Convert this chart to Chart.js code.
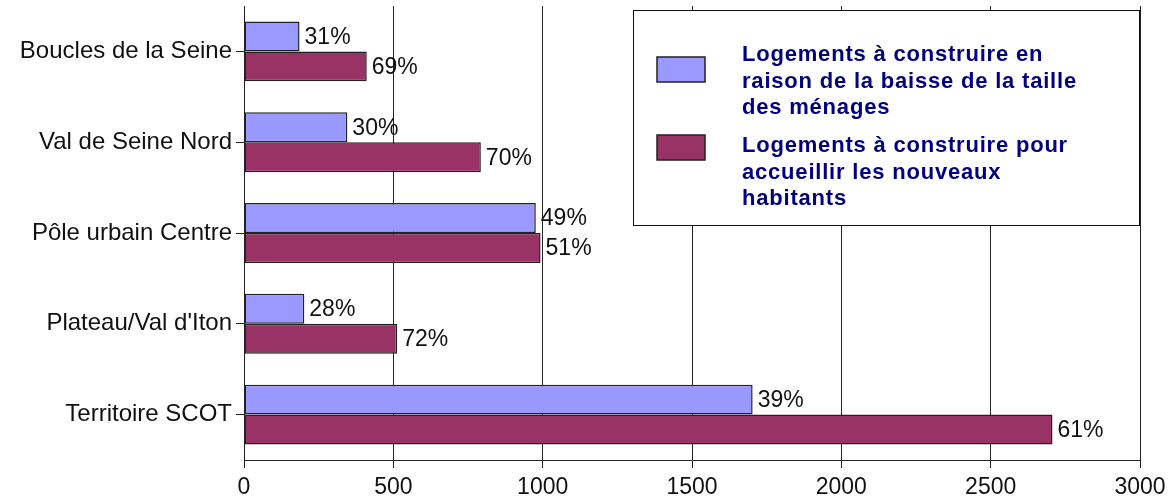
<!DOCTYPE html>
<html>
<head>
<meta charset="utf-8">
<script src="https://cdn.jsdelivr.net/npm/chart.js@4/dist/chart.umd.min.js"></script>
<style>
    body { margin: 0; background: #fff; }
    #wrap { width: 1172px; height: 499px; }
</style>
</head>
<body>
<div id="wrap"><canvas id="chart" width="1172" height="499"></canvas></div>
<script>
// Data
const categories = ['Boucles de la Seine', 'Val de Seine Nord', 'Pôle urbain Centre', "Plateau/Val d'Iton", 'Territoire SCOT'];
const baisseTaille = [186, 346, 977, 202, 1703];
const nouveauxHabitants = [411, 793, 993, 513, 2707];
const pctBaisse = ['31%', '30%', '49%', '28%', '39%'];
const pctNouveaux = ['69%', '70%', '51%', '72%', '61%'];
const legendBaisse = ['Logements à construire en', 'raison de la baisse de la taille', 'des ménages'];
const legendNouveaux = ['Logements à construire pour', 'accueillir les nouveaux', 'habitants'];

const FONT = "'Liberation Sans', Arial, sans-serif";
const BLUE = '#9999FF';
const RED = '#993366';

// Percent labels at the end of each bar
const pctLabels = {
    id: 'pctLabels',
    afterDatasetsDraw(chart) {
        const ctx = chart.ctx;
        const lists = [pctBaisse, pctNouveaux];
        ctx.save();
        ctx.font = '23px ' + FONT;
        ctx.fillStyle = '#111';
        ctx.textAlign = 'left';
        ctx.textBaseline = 'middle';
        chart.data.datasets.forEach((ds, i) => {
            chart.getDatasetMeta(i).data.forEach((bar, j) => {
                ctx.fillText(lists[i][j], bar.x + 5, bar.y + 1);
            });
        });
        ctx.restore();
    }
};

// Boxed legend with wrapped text
const boxLegend = {
    id: 'boxLegend',
    afterDraw(chart) {
        const ctx = chart.ctx;
        const box = { x: 633.5, y: 10.5, w: 506, h: 215 };
        ctx.save();
        ctx.fillStyle = '#fff';
        ctx.fillRect(box.x, box.y, box.w, box.h);
        ctx.strokeStyle = '#111';
        ctx.lineWidth = 1;
        ctx.strokeRect(box.x, box.y, box.w, box.h);

        const items = [
            { color: BLUE, lines: legendBaisse, swatchY: 57, textY: 55 },
            { color: RED, lines: legendNouveaux, swatchY: 135, textY: 146 }
        ];
        items.forEach(it => {
            ctx.fillStyle = it.color;
            ctx.fillRect(657, it.swatchY, 48, 25);
            ctx.strokeStyle = '#222';
            ctx.lineWidth = 1.5;
            ctx.strokeRect(657, it.swatchY, 48, 25);
            ctx.fillStyle = '#000080';
            ctx.font = 'bold 22px ' + FONT;
            ctx.letterSpacing = '0.8px';
            ctx.textBaseline = 'middle';
            it.lines.forEach((line, k) => {
                ctx.fillText(line, 742, it.textY + k * 26.5);
            });
        });
        ctx.restore();
    }
};

new Chart(document.getElementById('chart'), {
    type: 'bar',
    data: {
        labels: categories,
        datasets: [{
            label: legendBaisse.join(' '),
            data: baisseTaille,
            backgroundColor: BLUE,
            borderColor: '#222',
            borderWidth: 1.5,
            borderSkipped: false,
            barPercentage: 1,
            categoryPercentage: 0.66
        }, {
            label: legendNouveaux.join(' '),
            data: nouveauxHabitants,
            backgroundColor: RED,
            borderColor: '#222',
            borderWidth: 1.5,
            borderSkipped: false,
            barPercentage: 1,
            categoryPercentage: 0.66
        }]
    },
    options: {
        indexAxis: 'y',
        responsive: false,
        animation: false,
        layout: {
            padding: { top: 6, right: 32, left: 0, bottom: 0 }
        },
        plugins: {
            legend: { display: false },
            tooltip: { enabled: false }
        },
        scales: {
            x: {
                min: 0,
                max: 3000,
                ticks: {
                    stepSize: 500,
                    color: '#111',
                    padding: 6,
                    maxRotation: 0,
                    font: { family: FONT, size: 23 },
                    callback: value => String(value)
                },
                grid: {
                    color: '#222',
                    lineWidth: 1,
                    tickLength: 8
                },
                border: { color: '#222', width: 1 },
                afterFit(scale) {
                    scale.height = 39;
                    scale.paddingLeft = 0;
                    scale.paddingRight = 0;
                }
            },
            y: {
                ticks: {
                    color: '#111',
                    padding: 4,
                    font: { family: FONT, size: 24 }
                },
                grid: {
                    drawOnChartArea: false,
                    offset: false,
                    color: '#222',
                    tickLength: 8
                },
                border: { color: '#222', width: 1 },
                afterFit(scale) {
                    scale.width = 244;
                    scale.paddingTop = 0;
                    scale.paddingBottom = 0;
                }
            }
        }
    },
    plugins: [pctLabels, boxLegend]
});
</script>
</body>
</html>
